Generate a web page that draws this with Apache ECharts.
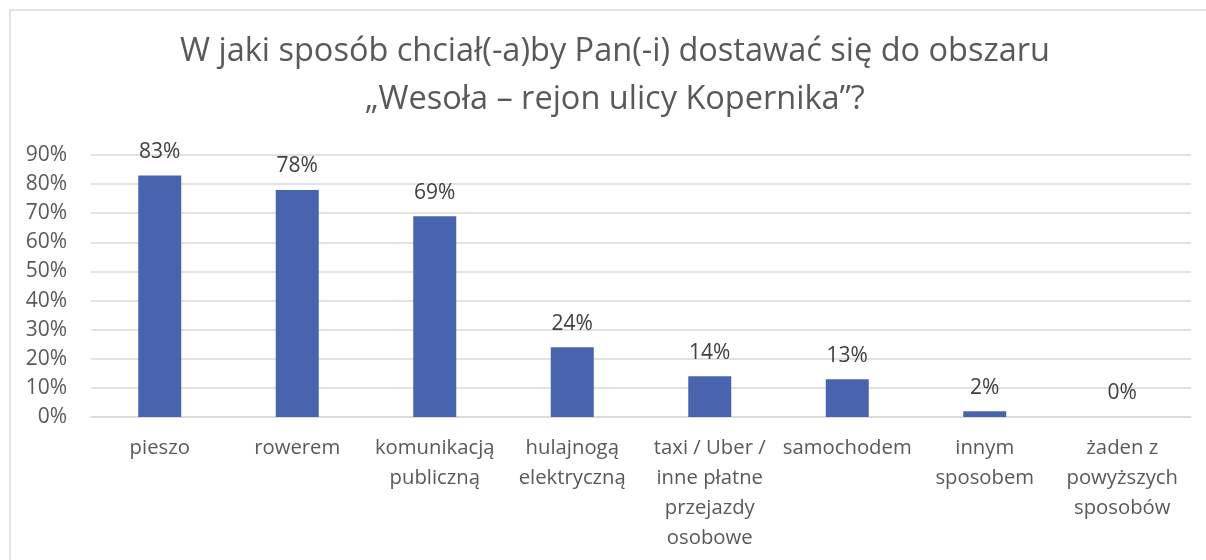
<!DOCTYPE html>
<html><head><meta charset="utf-8">
<script src="https://cdn.jsdelivr.net/npm/echarts@6/dist/echarts.min.js"></script>
<style>html,body{margin:0;padding:0;background:#fff}#c{width:1206px;height:560px}</style>
</head><body><div id="c"></div>
<script>
const titleLines = ['W jaki sposób chciał(-a)by Pan(-i) dostawać się do obszaru', '„Wesoła – rejon ulicy Kopernika”?'];
const categories = ['pieszo', 'rowerem', 'komunikacją\npubliczną', 'hulajnogą\nelektryczną', 'taxi / Uber /\ninne płatne\nprzejazdy\nosobowe', 'samochodem', 'innym\nsposobem', 'żaden z\npowyższych\nsposobów'];
const values = [83, 78, 69, 24, 14, 13, 2, 0];
const yTicks = {min: 0, max: 90, interval: 10};
const FONT = '"Open Sans", sans-serif';
const chart = echarts.init(document.getElementById('c'));
chart.setOption({
  animation: false,
  grid: {left: 91, right: 15, top: 155, bottom: 143},
  graphic: [
    {type: 'rect', shape: {x: 10, y: 10, width: 1210, height: 570}, style: {fill: null, stroke: '#d9d9d9', lineWidth: 1.5}, silent: true},
    {type: 'text', x: 615, y: 52, style: {text: titleLines[0], textAlign: 'center', textVerticalAlign: 'middle', fontSize: 32.5, fontFamily: FONT, fill: '#595959'}},
    {type: 'text', x: 615, y: 100, style: {text: titleLines[1], textAlign: 'center', textVerticalAlign: 'middle', fontSize: 32.5, fontFamily: FONT, fill: '#595959'}}
  ],
  xAxis: {
    type: 'category', data: categories,
    axisLine: {lineStyle: {color: '#d9d9d9', width: 1.5}},
    axisTick: {show: false},
    axisLabel: {interval: 0, color: '#595959', fontSize: 20.3, fontFamily: FONT, lineHeight: 30, margin: 16}
  },
  yAxis: {
    type: 'value', min: yTicks.min, max: yTicks.max, interval: yTicks.interval,
    axisLine: {show: false}, axisTick: {show: false},
    splitLine: {lineStyle: {color: '#d9d9d9', width: 1.5}},
    axisLabel: {formatter: '{value}%', color: '#595959', fontSize: 21, fontFamily: FONT, margin: 24}
  },
  series: [{
    type: 'bar', data: values, barWidth: 43,
    itemStyle: {color: '#4864ae'},
    label: {show: true, position: 'top', distance: 13, formatter: '{c}%', color: '#404040', fontSize: 21, fontFamily: FONT}
  }]
});
</script></body></html>
